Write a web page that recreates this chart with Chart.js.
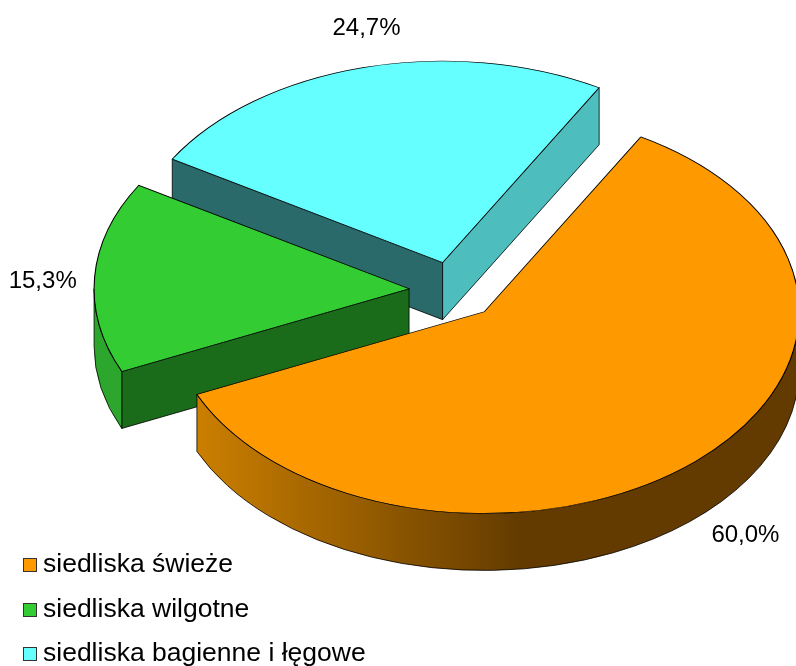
<!DOCTYPE html>
<html>
<head>
    <meta charset="utf-8">
    <title>Siedliska</title>
    <script src="https://cdn.jsdelivr.net/npm/chart.js"></script>
    <style>
        body { margin: 0; background: #fff; font-family: "Liberation Sans", Arial, sans-serif; }
        #wrap { position: relative; width: 796px; height: 666px; overflow: hidden; }
        #legend { position: absolute; left: 23px; top: 541px; }
        #legend div { height: 44.5px; line-height: 44.5px; font-size: 26.5px; color: #000; white-space: nowrap; }
        #legend i { display: inline-block; width: 12px; height: 12px; border: 1px solid #333; margin-right: 6px; }
    </style>
</head>
<body>
    <div id="wrap">
        <canvas id="myChart" width="796" height="666"></canvas>
        <div id="legend"></div>
    </div>

    <script>
        // Data
        const categories = ["siedliska świeże", "siedliska wilgotne", "siedliska bagienne i łęgowe"];
        const values = [60.0, 15.3, 24.7];
        const valueLabels = ["60,0%", "15,3%", "24,7%"];

        // Colours: top, the two cut faces, rounded wall (left and right end of the gradient)
        const topColors = ["#ff9900", "#33cc33", "#66ffff"];
        const startFaceColors = ["#663d00", "#1a6b1a", "#2b6a6a"];
        const endFaceColors = ["#663d00", "#1a6b1a", "#4dbdbd"];
        const wallLeftColors = ["#cb7f00", "#2ca62c", "#4dbdbd"];
        const wallRightColors = ["#633b00", "#2a9f2a", "#2b6a6a"];

        // 3D look
        const squash = 0.64;
        const depth = 57;
        const explode = 45;
        const labelDist = 368;
        const labelNudgeX = [14, 1, 17];
        const labelNudgeY = [-8, 6, -6];

        function sliceGeometry(arc) {
            const mid = (arc.startAngle + arc.endAngle) / 2;
            return {
                mid: mid,
                cx: arc.x + Math.cos(mid) * explode,
                cy: arc.y + Math.sin(mid) * explode * squash,
                r: arc.outerRadius
            };
        }

        function drawFace(ctx, g, angle, color) {
            const ex = g.cx + Math.cos(angle) * g.r;
            const ey = g.cy + Math.sin(angle) * g.r * squash;
            ctx.beginPath();
            ctx.moveTo(g.cx, g.cy);
            ctx.lineTo(ex, ey);
            ctx.lineTo(ex, ey + depth);
            ctx.lineTo(g.cx, g.cy + depth);
            ctx.closePath();
            ctx.fillStyle = color;
            ctx.fill();
            ctx.stroke();
        }

        function drawWall(ctx, g, start, end, i) {
            const lo = Math.max(start, 0);
            const hi = Math.min(end, Math.PI);
            if (lo >= hi) return;
            const grad = ctx.createLinearGradient(g.cx + Math.cos(hi) * g.r, 0, g.cx + 38, 0);
            grad.addColorStop(0, wallLeftColors[i]);
            grad.addColorStop(1, wallRightColors[i]);
            ctx.beginPath();
            ctx.ellipse(g.cx, g.cy, g.r, g.r * squash, 0, lo, hi);
            ctx.ellipse(g.cx, g.cy + depth, g.r, g.r * squash, 0, hi, lo, true);
            ctx.closePath();
            ctx.fillStyle = grad;
            ctx.fill();
            ctx.stroke();
        }

        // Draws the slices back to front, each with its side walls under it
        const pie3d = {
            id: "pie3d",
            beforeDatasetDraw(chart, args) {
                const ctx = chart.ctx;
                const arcs = args.meta.data;
                for (let i = arcs.length - 1; i >= 0; i--) {
                    const arc = arcs[i];
                    const g = sliceGeometry(arc);
                    ctx.save();
                    ctx.strokeStyle = "#000";
                    ctx.lineWidth = 0.8;
                    if (Math.cos(arc.startAngle) < 0) drawFace(ctx, g, arc.startAngle, startFaceColors[i]);
                    if (Math.cos(arc.endAngle) > 0) drawFace(ctx, g, arc.endAngle, endFaceColors[i]);
                    drawWall(ctx, g, arc.startAngle, arc.endAngle, i);
                    ctx.restore();

                    ctx.save();
                    ctx.translate(g.cx, g.cy);
                    ctx.scale(1, squash);
                    ctx.translate(-arc.x, -arc.y);
                    arc.draw(ctx, chart.chartArea);
                    ctx.restore();
                }
                return false;
            },
            afterDatasetsDraw(chart) {
                const ctx = chart.ctx;
                const arcs = chart.getDatasetMeta(0).data;
                ctx.save();
                ctx.font = '24px "Liberation Sans", Arial, sans-serif';
                ctx.fillStyle = "#000";
                ctx.textAlign = "center";
                ctx.textBaseline = "middle";
                arcs.forEach((arc, i) => {
                    const g = sliceGeometry(arc);
                    const x = g.cx + Math.cos(g.mid) * labelDist + labelNudgeX[i];
                    let y = g.cy + Math.sin(g.mid) * labelDist * squash + labelNudgeY[i];
                    if (Math.sin(g.mid) > 0.5) y += depth;
                    ctx.fillText(valueLabels[i], x, y);
                });
                ctx.restore();
            }
        };

        new Chart(document.getElementById("myChart"), {
            type: "pie",
            data: {
                labels: categories,
                datasets: [{
                    data: values,
                    backgroundColor: topColors,
                    borderColor: "#000",
                    borderWidth: 1.1,
                    borderJoinStyle: "miter"
                }]
            },
            options: {
                responsive: false,
                animation: false,
                rotation: 29.8,
                radius: 315,
                layout: { padding: { left: 112, bottom: 85 } },
                plugins: { legend: { display: false }, tooltip: { enabled: false } }
            },
            plugins: [pie3d]
        });

        // Legend
        const legend = document.getElementById("legend");
        categories.forEach((name, i) => {
            const row = document.createElement("div");
            row.innerHTML = `<i style="background:${topColors[i]}"></i>${name}`;
            legend.appendChild(row);
        });
    </script>
</body>
</html>
